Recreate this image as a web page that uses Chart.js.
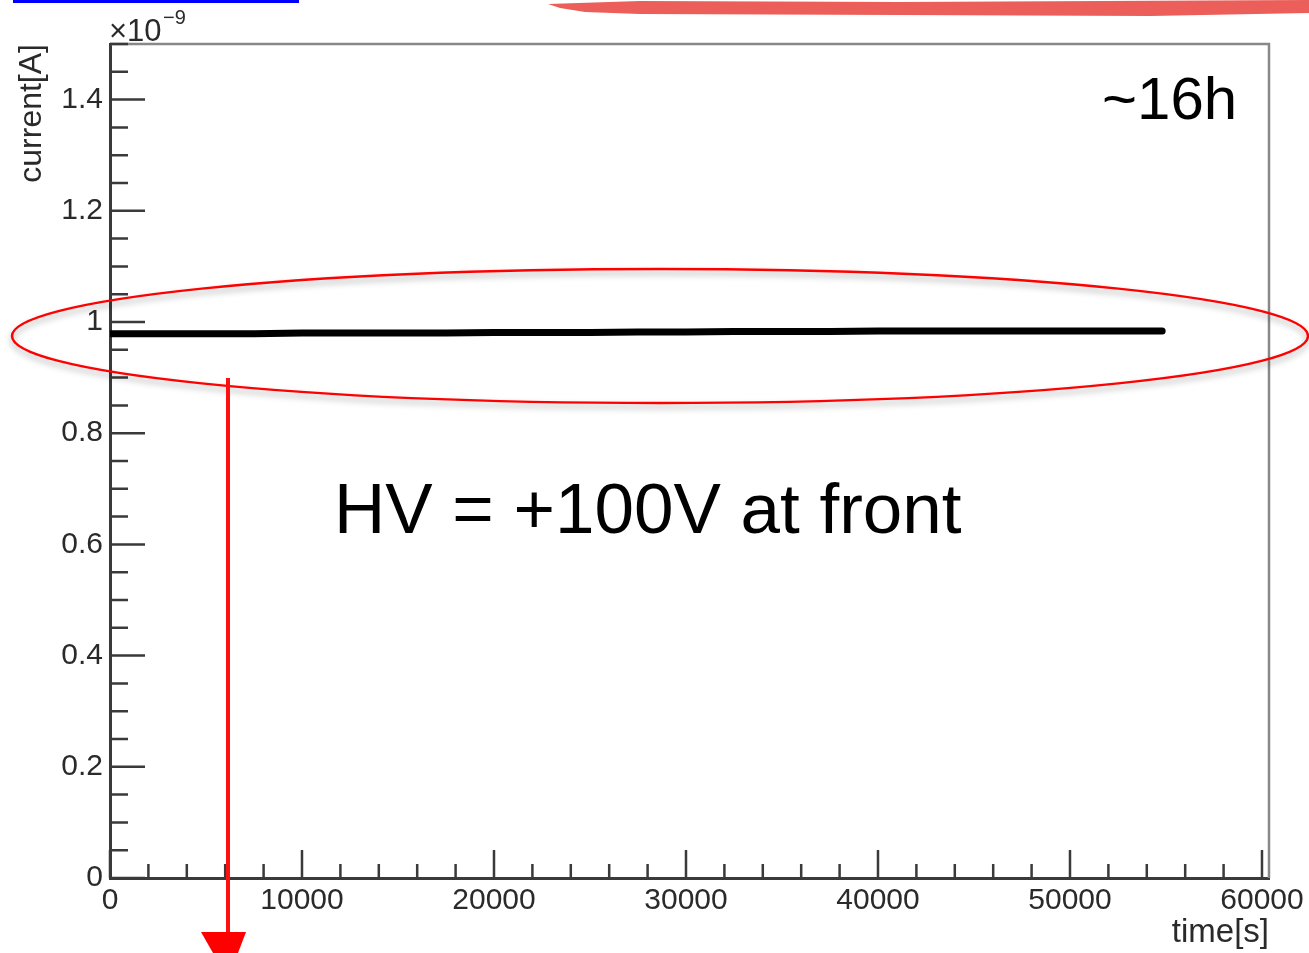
<!DOCTYPE html>
<html lang="en">
<head>
    <meta charset="UTF-8">
    <title>current vs time</title>
    <style>
        body {
            margin: 0;
            padding: 0;
            background: #ffffff;
        }
        #wrap {
            width: 1309px;
            height: 953px;
            position: relative;
        }
    </style>
    <script src="https://cdn.jsdelivr.net/npm/chart.js"></script>
</head>
<body>
    <div id="wrap">
        <canvas id="currentChart" width="1309" height="953"></canvas>
    </div>

    <script>
    // time [s] and current [x1e-9 A]
    const times = [0, 2500, 5000, 7500, 10000, 12500, 15000, 17500, 20000, 22500, 25000,
                   27500, 30000, 32500, 35000, 37500, 40000, 42500, 45000, 47500, 50000, 52500, 54800];
    const current = [0.979, 0.979, 0.979, 0.979, 0.980, 0.980, 0.980, 0.980, 0.981, 0.981, 0.981,
                     0.982, 0.982, 0.983, 0.983, 0.983, 0.984, 0.984, 0.984, 0.984, 0.984, 0.984, 0.984];
    const xMajorTicks = [0, 10000, 20000, 30000, 40000, 50000, 60000];
    const yMajorTicks = [0, 0.2, 0.4, 0.6, 0.8, 1, 1.2, 1.4];

    const fontFamily = "'Liberation Sans', Arial, sans-serif";
    const tickFont = { family: fontFamily, size: 30 };

    // ROOT style frame + inward ticks + exponent label
    const rootFrame = {
        id: "rootFrame",
        afterDraw(chart) {
            const ctx = chart.ctx;
            const a = chart.chartArea;
            const xs = chart.scales.x;
            const ys = chart.scales.y;
            ctx.save();
            ctx.strokeStyle = "#888";
            ctx.lineWidth = 2.5;
            ctx.beginPath();
            ctx.moveTo(a.left, a.top);
            ctx.lineTo(a.right, a.top);
            ctx.lineTo(a.right, a.bottom);
            ctx.stroke();

            ctx.strokeStyle = "#3a3a3a";
            ctx.lineWidth = 2.5;
            ctx.beginPath();
            for (let v = 0; v <= 60000; v += 2000) {
                const px = xs.getPixelForValue(v);
                const len = v % 10000 === 0 ? 28 : 14;
                ctx.moveTo(px, a.bottom);
                ctx.lineTo(px, a.bottom - len);
            }
            for (let i = 0; i <= 30; i++) {
                const v = i * 0.05;
                const py = ys.getPixelForValue(v);
                const len = i % 4 === 0 ? 35 : 18;
                ctx.moveTo(a.left, py);
                ctx.lineTo(a.left + len, py);
            }
            ctx.stroke();

            ctx.fillStyle = "#2a2a2a";
            ctx.textBaseline = "alphabetic";
            ctx.textAlign = "left";
            ctx.font = "31px " + fontFamily;
            ctx.fillText("\u00d710", a.left - 1, 41);
            ctx.font = "20px " + fontFamily;
            ctx.fillText("\u22129", a.left + 53, 24);
            ctx.restore();
        }
    };

    // slide annotations drawn over the plot
    const annotations = {
        id: "annotations",
        afterDraw(chart) {
            const ctx = chart.ctx;
            ctx.save();

            // blue underline top-left
            ctx.fillStyle = "#0000ff";
            ctx.fillRect(13, 0, 286, 3);

            // red brush stroke at top
            ctx.fillStyle = "rgb(236, 94, 89)";
            ctx.beginPath();
            ctx.moveTo(548, 4);
            ctx.lineTo(640, 1);
            ctx.lineTo(900, 2);
            ctx.lineTo(1309, 0);
            ctx.lineTo(1309, 13);
            ctx.lineTo(1150, 16);
            ctx.lineTo(900, 15);
            ctx.lineTo(640, 14);
            ctx.lineTo(585, 12);
            ctx.lineTo(560, 8);
            ctx.closePath();
            ctx.fill();

            // red ellipse with soft shadow
            ctx.shadowColor = "rgba(0,0,0,0.35)";
            ctx.shadowBlur = 6;
            ctx.shadowOffsetY = 4;
            ctx.strokeStyle = "#ff0000";
            ctx.lineWidth = 2.5;
            ctx.beginPath();
            ctx.ellipse(660, 336, 648, 67, 0, 0, Math.PI * 2);
            ctx.stroke();
            ctx.shadowColor = "transparent";

            // red arrow
            ctx.strokeStyle = "#ff1010";
            ctx.lineWidth = 4;
            ctx.beginPath();
            ctx.moveTo(228, 378);
            ctx.lineTo(228, 936);
            ctx.stroke();
            ctx.fillStyle = "#ff0000";
            ctx.beginPath();
            ctx.moveTo(201, 932);
            ctx.lineTo(246, 932);
            ctx.lineTo(238, 953);
            ctx.lineTo(213, 953);
            ctx.closePath();
            ctx.fill();

            // texts
            ctx.fillStyle = "#000";
            ctx.textAlign = "left";
            ctx.textBaseline = "alphabetic";
            ctx.font = "60px " + fontFamily;
            ctx.fillText("~16h", 1102, 119);
            ctx.font = "71px " + fontFamily;
            ctx.fillText("HV = +100V at front", 334, 533);
            ctx.restore();
        }
    };

    new Chart(document.getElementById("currentChart"), {
        type: "line",
        data: {
            datasets: [{
                data: times.map((t, i) => ({ x: t, y: current[i] })),
                borderColor: "#000",
                borderWidth: 7,
                borderCapStyle: "round",
                pointRadius: 0,
                tension: 0,
                fill: false
            }]
        },
        options: {
            responsive: false,
            animation: false,
            devicePixelRatio: 1,
            layout: { padding: { top: 44, right: 40, left: 0, bottom: 0 } },
            plugins: {
                legend: { display: false },
                tooltip: { enabled: false }
            },
            scales: {
                x: {
                    type: "linear",
                    min: 0,
                    max: 60365,
                    afterBuildTicks: s => { s.ticks = xMajorTicks.map(v => ({ value: v })); },
                    afterFit: s => { s.height = 75; },
                    grid: { display: false, drawTicks: false },
                    border: { display: true, color: "#3a3a3a", width: 3 },
                    ticks: {
                        padding: 5,
                        color: "#2a2a2a",
                        font: tickFont,
                        maxRotation: 0,
                        autoSkip: false,
                        callback: v => String(v)
                    },
                    title: {
                        display: true,
                        text: "time[s]",
                        align: "end",
                        color: "#2a2a2a",
                        font: { family: fontFamily, size: 33 },
                        padding: { top: 0, bottom: 0 }
                    }
                },
                y: {
                    min: 0,
                    max: 1.5,
                    afterBuildTicks: s => { s.ticks = yMajorTicks.map(v => ({ value: v })); },
                    afterFit: s => { s.width = 110; },
                    grid: { display: false, drawTicks: false },
                    border: { display: true, color: "#3a3a3a", width: 3 },
                    ticks: {
                        padding: 7,
                        color: "#2a2a2a",
                        font: tickFont,
                        autoSkip: false,
                        callback: v => String(Math.round(v * 10) / 10)
                    },
                    title: {
                        display: true,
                        text: "current[A]",
                        align: "end",
                        color: "#2a2a2a",
                        font: { family: fontFamily, size: 32 },
                        padding: { top: 13, bottom: 14 }
                    }
                }
            }
        },
        plugins: [rootFrame, annotations]
    });
    </script>
</body>
</html>
